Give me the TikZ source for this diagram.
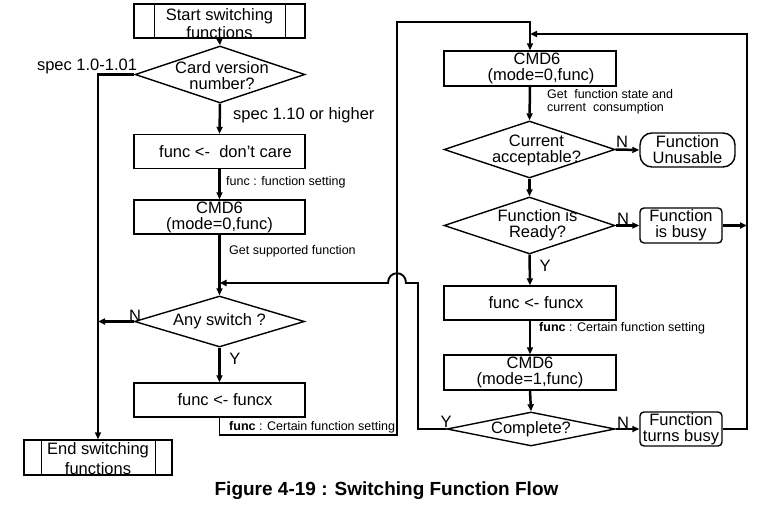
\documentclass[tikz,border=0pt]{standalone}
\usepackage{fontspec}
\setmainfont{Liberation Sans}
\usetikzlibrary{arrows.meta,positioning,shapes.geometric}

\begin{document}
\begin{tikzpicture}[x=1pt,y=-1pt,>={Triangle[length=7pt,width=6pt]},font=\fontsize{16.5}{16}\selectfont]
\tikzstyle{box}=[draw,line width=1.4pt,inner sep=0pt,minimum width=171pt,minimum height=34pt,align=center]
\tikzstyle{term}=[box,minimum width=148pt,minimum height=35pt]
\tikzstyle{decision}=[draw,diamond,line width=1.4pt,inner sep=0pt,minimum width=170pt,minimum height=57pt]
\tikzstyle{dectext}=[align=center,inner sep=0pt]
\tikzstyle{outcome}=[draw,line width=1.4pt,rounded corners=4pt,inner sep=0pt,minimum width=82pt,minimum height=35pt,align=center]
\tikzstyle{flow}=[line width=2.5pt]
\tikzstyle{back}=[line width=1.9pt]
\tikzstyle{note}=[inner sep=0pt,anchor=west,align=left,font=\fontsize{12.5}{13}\selectfont]
\tikzstyle{yn}=[inner sep=0pt]
\useasboundingbox (0,0) rectangle (782,505);

% left column
\node[box,label={[dectext,yshift=-3pt,font=\fontsize{16.5}{18}\selectfont]center:{Start switching\\functions}}] (start) at (219.5,21) {};
\draw[line width=1.4pt] ([xshift=21pt]start.north west) -- ([xshift=21pt]start.south west)
  ([xshift=-20pt]start.north east) -- ([xshift=-20pt]start.south east);
\node[decision,label={[dectext,yshift=-1pt,xshift=2pt]center:{Card version\\number?}}] (card) at (220,74.5) {};
\node[box] (care) at (219.5,151.5) {\hspace*{12pt}func <-\ \ don't care};
\node[box] (cmda) at (219.5,217) {CMD6\\(mode=0,func)};
\node[decision,minimum height=51pt,label={[dectext]center:{Any switch ?}}] (any) at (219.5,321.5) {};
\node[box] (funcxa) at (219.5,400) {\hspace*{11pt}func <-\ funcx};
\node[term,label={[dectext,yshift=-1pt,font=\fontsize{16.5}{20}\selectfont]center:{End switching\\functions}}] (stop) at (98,457.5) {};
\draw[line width=1.4pt] ([xshift=18pt]stop.north west) -- ([xshift=18pt]stop.south west)
  ([xshift=-17pt]stop.north east) -- ([xshift=-17pt]stop.south east);

% right column
\node[box,minimum width=172pt,minimum height=35pt] (cmdb) at (530,68.5) {\hspace*{14pt}CMD6\\\hspace*{22pt}(mode=0,func)};
\node[decision,minimum width=171pt,label={[dectext,xshift=7pt,yshift=-1pt]center:{Current\\acceptable?}}] (cur) at (529.5,149.5) {};
\node[outcome,rounded corners=12pt,minimum width=95pt,minimum height=34pt] (unus) at (687.5,150) {Function\\Unusable};
\node[decision,minimum width=171pt,label={[dectext,xshift=8pt]center:{Function is\\Ready?}}] (ready) at (529.5,225.5) {};
\node[outcome] (busy) at (681,225.5) {Function\\is busy};
\node[box,minimum width=172pt] (funcxb) at (530,303) {\hspace*{12pt}func <-\ funcx};
\node[box,minimum width=172pt,minimum height=35pt] (cmdc) at (530,372.5) {CMD6\\(mode=1,func)};
\node[decision,minimum width=168pt,minimum height=34pt,label={[dectext]center:{Complete?}}] (done) at (531,429) {};
\node[outcome,minimum height=34pt] (turns) at (681,429) {Function\\turns busy};

% left connectors
\draw[flow,->] (start.south) -- (card.north);
\draw[flow,->] (card.west) -| (stop.north);
\node[yn] (specold) at (87,66) {spec 1.0-1.01};
\draw[flow,->] (card.south) -- (care.north);
\node[yn,anchor=west] (specnew) at (233,115) {spec 1.10 or higher};
\draw[flow,->] (care.south) -- (cmda.north);
\node[note] (setting) at (226,182) {func : function setting};
\draw[flow,->] (cmda.south) -- (any.north);
\node[note] (supported) at (229,251) {Get supported function};
\draw[flow,->] (any.west) -- (any.west -| stop.north);
\node[yn] (anyn) at (135,316) {N};
\draw[flow,->] (any.south) -- (funcxa.north);
\node[yn] (anyy) at (235,359) {Y};
\node[note] (certaina) at (229,427) {\textbf{func} : Certain function setting};

% loop to the right column
\coordinate (up) at (397,22);
\draw[back,->] (funcxa.south) |- (up |- 0,435) -- (up) -| (cmdb.north);

% right connectors
\draw[flow,->] (cmdb.south) -- (cur.north);
\node[note] (state) at (547,102) {Get\ \ function state and\\current\ \ consumption};
\draw[flow,->] (cur.east) -- (unus.west);
\node[yn] (curn) at (622,142) {N};
\draw[flow,->] (cur.south) -- (ready.north);
\draw[flow,->] (ready.east) -- (busy.west);
\node[yn] (readyn) at (623,219) {N};
\coordinate (rr) at (747,34);
\draw[flow,->] (busy.east) -- (busy.east -| rr);
\draw[flow,->] (ready.south) -- (funcxb.north);
\node[yn] (readyy) at (545,266) {Y};
\draw[flow,->] (funcxb.south) -- (cmdc.north);
\node[note] (certainb) at (539,328) {\textbf{func} : Certain function setting};
\draw[flow,->] (cmdc.south) -- (done.north);
\draw[flow,->] (done.east) -- (turns.west);
\node[yn] (donen) at (623,423) {N};
\node[yn] (doney) at (446,422) {Y};
\draw[back,->] (turns.east) -| (rr) -- (cmdb.north |- rr);

% back to any switch, jumping over the loop line
\coordinate (rj) at (418,283);
\draw[back,->] (done.west) -| (rj) -- (406,283) .. controls (406,270) and (388,270) .. (388,283) -- (cmda.south |- rj);

\node[font=\fontsize{19}{19}\selectfont\bfseries] (caption) at (386.5,491) {Figure 4-19 : Switching Function Flow};
\end{tikzpicture}
\end{document}
